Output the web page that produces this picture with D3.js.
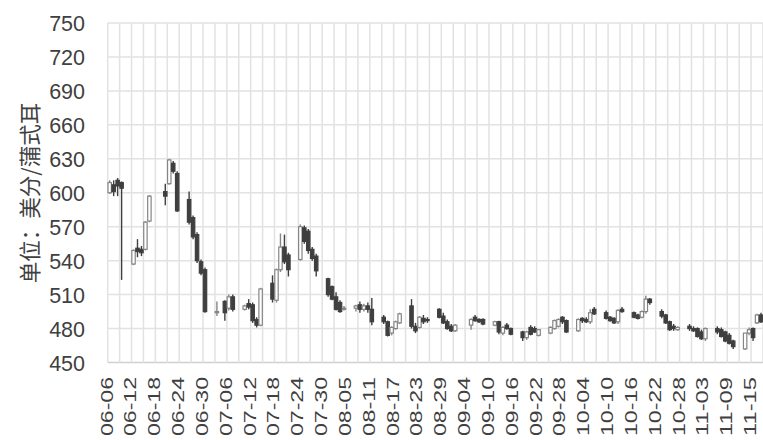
<!DOCTYPE html>
<html><head><meta charset="utf-8">
<script src="https://cdn.jsdelivr.net/npm/d3@7/dist/d3.min.js"></script>
<style>html,body{margin:0;padding:0;background:#fff;}svg{display:block;}</style>
</head><body>
<svg id="chart" width="763" height="440"></svg>
<script>
// ---- data ----
const dates = ["2023-06-06","2023-06-07","2023-06-08","2023-06-09","2023-06-12","2023-06-13","2023-06-14","2023-06-15","2023-06-16",
"2023-06-20","2023-06-21","2023-06-22","2023-06-23","2023-06-26","2023-06-27","2023-06-28","2023-06-29","2023-06-30",
"2023-07-03","2023-07-05","2023-07-06","2023-07-07","2023-07-10","2023-07-11","2023-07-12","2023-07-13","2023-07-14",
"2023-07-17","2023-07-18","2023-07-19","2023-07-20","2023-07-21","2023-07-24","2023-07-25","2023-07-26","2023-07-27","2023-07-28",
"2023-07-31","2023-08-01","2023-08-02","2023-08-03","2023-08-04","2023-08-07","2023-08-08","2023-08-09","2023-08-10","2023-08-11",
"2023-08-14","2023-08-15","2023-08-16","2023-08-17","2023-08-18","2023-08-21","2023-08-22","2023-08-23","2023-08-24","2023-08-25",
"2023-08-28","2023-08-29","2023-08-30","2023-08-31","2023-09-01","2023-09-05","2023-09-06","2023-09-07","2023-09-08",
"2023-09-11","2023-09-12","2023-09-13","2023-09-14","2023-09-15","2023-09-18","2023-09-19","2023-09-20","2023-09-21","2023-09-22",
"2023-09-25","2023-09-26","2023-09-27","2023-09-28","2023-09-29","2023-10-02","2023-10-03","2023-10-04","2023-10-05","2023-10-06",
"2023-10-09","2023-10-10","2023-10-11","2023-10-12","2023-10-13","2023-10-16","2023-10-17","2023-10-18","2023-10-19","2023-10-20",
"2023-10-23","2023-10-24","2023-10-25","2023-10-26","2023-10-27","2023-10-30","2023-10-31","2023-11-01","2023-11-02","2023-11-03",
"2023-11-06","2023-11-07","2023-11-08","2023-11-09","2023-11-10","2023-11-13","2023-11-14","2023-11-15","2023-11-16","2023-11-17"];
const open  = [600,607,611,609,537,551,550,550,575, 601,608,626,617,594,578,563,539,532, 494,504,498,508,497,502,501,488,483,
520,505,532,552,545,541,569,566,550,544, 524,517,508,503,497,498,501,497,500,497, 490,486,476,480,485,500,482,481,489,488,
497,491,486,482,478,483,490,488,488, 483,486,476,483,480,477,472,481,480,474, 476,480,482,490,487,478,489,488,486,497,
494,490,489,486,497,494,492,490,495,506, 495,492,486,482,479,482,480,480,477,471, 480,479,477,474,469,462,476,480,485,492];
const high  = [611,611,613,610,550,559,553,575,598, 608,630,628,619,601,580,565,541,534, 504,505,510,510,501,506,503,490,516,
527,533,564,563,547,572,571,568,552,546, 525,518,512,505,500,501,504,502,503,507, 492,487,482,487,494,506,485,491,492,490,
498,494,488,484,484,489,492,489,489, 487,487,482,485,481,478,478,483,482,479, 482,488,489,491,488,489,490,490,497,499,
496,491,490,497,499,495,493,496,509,507, 497,493,487,484,482,484,482,481,479,481, 482,481,478,476,470,476,481,481,493,494];
const low   = [599,597,597,523,536,543,544,549,574, 589,607,617,583,572,559,538,527,494, 491,487,496,495,496,497,485,481,482,
503,503,530,537,526,540,555,546,540,526, 508,505,496,494,496,495,494,495,494,483, 484,473,474,479,484,480,476,480,484,485,
489,484,479,477,477,479,486,485,483, 482,475,474,479,474,469,470,474,476,473, 475,479,481,484,476,477,485,485,484,492,
488,486,484,484,494,489,488,489,493,501, 489,484,478,478,478,478,477,472,470,469, 475,472,468,466,462,461,474,469,484,485];
const close = [609,601,606,604,549,548,547,574,597, 597,629,619,584,574,561,540,529,495, 495,494,508,497,500,499,487,483,515,
506,532,552,539,532,570,557,549,542,531, 510,506,497,495,498,500,497,500,497,486, 486,474,481,486,493,482,478,490,486,487,
490,485,480,478,483,488,487,486,484, 486,477,481,480,475,472,477,475,477,479, 481,487,488,486,477,488,487,486,494,493,
489,487,485,496,495,490,489,495,506,503, 491,485,479,480,481,480,478,473,471,480, 477,473,469,467,464,476,479,472,492,486];
const xTickLabels = ["06-06","06-12","06-18","06-24","06-30","07-06","07-12","07-18","07-24","07-30","08-05","08-11","08-17","08-23",
"08-29","09-04","09-10","09-16","09-22","09-28","10-04","10-10","10-16","10-22","10-28","11-03","11-09","11-15"];
const yTicks = [450,480,510,540,570,600,630,660,690,720,750];
const yTitle = "单位：美分/蒲式耳";

// ---- layout ----
const svg = d3.select("#chart");
const parse = d3.utcParse("%Y-%m-%d");
const start = parse("2023-06-06"), end = parse("2023-11-18");
const x = d3.scaleUtc().domain([start, end]).range([107.7, 763]);
const y = d3.scaleLinear().domain([450, 750]).range([362.5, 23]);

// gridlines
const g = svg.append("g");
g.selectAll("line.h").data(yTicks).join("line")
  .attr("x1", 107.7).attr("x2", 763).attr("y1", d => y(d)).attr("y2", d => y(d))
  .attr("stroke", d => d === 450 ? "#d0d0d0" : "#e2e2e2").attr("stroke-width", 1.5);
g.selectAll("line.v").data(d3.utcDay.range(start, end, 3).concat([end])).join("line")
  .attr("x1", d => x(d)).attr("x2", d => x(d)).attr("y1", y(750)).attr("y2", y(450))
  .attr("stroke", "#e2e2e2").attr("stroke-width", 1.5);

// y axis labels
const yAxis = d3.axisLeft(y).tickValues(yTicks).tickSize(0).tickPadding(0);
const ya = svg.append("g").attr("transform", "translate(85,0)").call(yAxis);
ya.select(".domain").remove();
ya.selectAll("text").attr("font-family", "'Liberation Sans', Arial, sans-serif").attr("font-size", 21.5).attr("fill", "#404040").attr("dy", "0.36em");

// x axis labels
const xa = svg.append("g");
xa.selectAll("text").data(xTickLabels).join("text")
  .attr("transform", (d, i) => `translate(${x(d3.utcDay.offset(start, i * 6)) - 1},377) rotate(-90)`)
  .attr("text-anchor", "end").attr("dy", "0.36em")
  .attr("font-family", "'Liberation Sans', Arial, sans-serif").attr("font-size", 16.5)
  .attr("textLength", 59).attr("lengthAdjust", "spacingAndGlyphs")
  .attr("fill", "#404040").text(d => d);

// y title
svg.append("text").attr("transform", "translate(30,193) rotate(-90)")
  .attr("text-anchor", "middle").attr("dy", "0.36em")
  .attr("font-family", "'Noto Sans CJK SC', sans-serif").attr("font-size", 21.5).attr("fill", "#404040")
  .text(yTitle);

// candles
const data = dates.map((d, i) => ({ t: parse(d), o: open[i], h: high[i], l: low[i], c: close[i] }));
const cx = d => x(d3.utcHour.offset(d.t, 12));
const bw = 3.4;
const cg = svg.append("g");
const up = "#858585", dn = "#3f3f3f";
cg.selectAll("line").data(data).join("line")
  .attr("x1", cx).attr("x2", cx).attr("y1", d => y(d.h)).attr("y2", d => y(d.l))
  .attr("stroke", d => d.c >= d.o ? up : dn).attr("stroke-width", 1.4);
cg.selectAll("rect").data(data).join("rect")
  .attr("x", d => cx(d) - bw / 2).attr("width", bw)
  .attr("y", d => y(Math.max(d.o, d.c))).attr("height", d => Math.max(1, Math.abs(y(d.o) - y(d.c))))
  .attr("fill", d => d.c >= d.o ? "#fff" : dn)
  .attr("stroke", d => d.c >= d.o ? up : dn).attr("stroke-width", 1.2);
</script>
</body></html>
